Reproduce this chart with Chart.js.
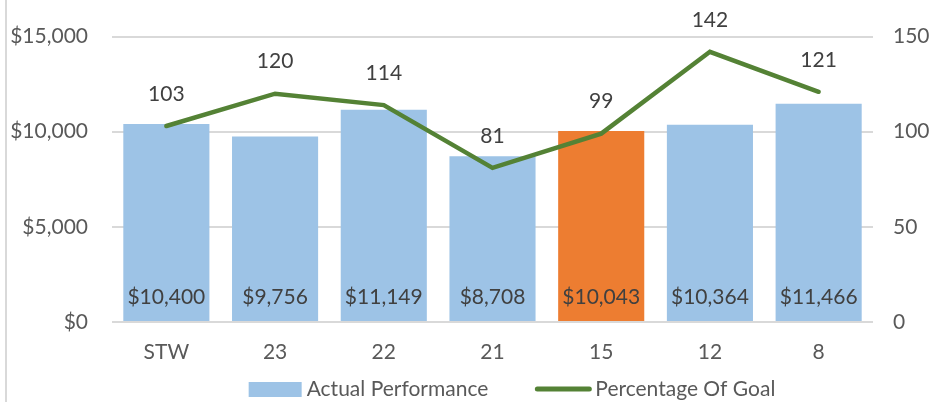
<!DOCTYPE html>
<html><head><meta charset="utf-8">
<script src="https://cdn.jsdelivr.net/npm/chart.js@4"></script>
<style>
html,body{margin:0;padding:0;background:#fff}
#wrap{position:relative;width:937px;height:402px}
#edge{position:absolute;left:5px;top:0;width:2px;height:402px;background:#d9d9d9}
</style>
</head><body>
<div id="wrap"><canvas id="c" width="937" height="402"></canvas><div id="edge"></div></div>
<script>
const categories = ['STW','23','22','21','15','12','8'];
const actualPerformance = [10400,9756,11149,8708,10043,10364,11466];
const percentageOfGoal = [103,120,114,81,99,142,121];
const leftTicks = [0,5000,10000,15000];
const rightTicks = [0,50,100,150];
const seriesNames = ['Actual Performance','Percentage Of Goal'];
const highlightCategory = '15';

const FONT = 'Lato, "Liberation Sans", sans-serif';
const FS = 21;
const TXT = '#595959';
const LBL = '#404040';
const BLUE = '#9DC3E6';
const ORANGE = '#ED7D31';
const GREEN = '#548235';
const fmt = v => '$' + Number(v).toLocaleString('en-US');

const labelsPlugin = {
  id: 'labelsPlugin',
  afterDraw(chart) {
    const ctx = chart.ctx;
    ctx.save();
    ctx.font = FS + 'px ' + FONT;
    ctx.fillStyle = LBL;
    ctx.textAlign = 'center';
    ctx.textBaseline = 'middle';
    chart.data.datasets.forEach((ds, di) => {
      const meta = chart.getDatasetMeta(di);
      meta.data.forEach((el, i) => {
        if (ds.type === 'bar') {
          ctx.fillText(fmt(ds.data[i]), el.x, el.base - 24);
        } else {
          ctx.fillText(String(ds.data[i]), el.x, el.y - 32);
        }
      });
    });
    // legend
    ctx.fillStyle = TXT;
    ctx.textAlign = 'left';
    const w1 = ctx.measureText(seriesNames[0]).width;
    const w2 = ctx.measureText(seriesNames[1]).width;
    const total = 53 + 5 + w1 + 47 + 56 + 4 + w2;
    let x = 512 - total / 2;
    const cy = 389;
    ctx.fillStyle = BLUE;
    ctx.fillRect(x, cy - 7, 53, 15);
    x += 58;
    ctx.fillStyle = TXT;
    ctx.fillText(seriesNames[0], x, cy);
    x += w1 + 47;
    ctx.strokeStyle = GREEN;
    ctx.lineWidth = 5;
    ctx.lineCap = 'round';
    ctx.beginPath();
    ctx.moveTo(x + 2, cy);
    ctx.lineTo(x + 54, cy);
    ctx.stroke();
    x += 60;
    ctx.fillText(seriesNames[1], x, cy);
    ctx.restore();
  }
};

new Chart(document.getElementById('c'), {
  data: {
    labels: categories,
    datasets: [
      {
        type: 'line',
        label: seriesNames[1],
        data: percentageOfGoal,
        yAxisID: 'y2',
        borderColor: GREEN,
        borderWidth: 4.5,
        pointRadius: 0,
        tension: 0,
        order: 0,
        borderCapStyle: 'round'
      },
      {
        type: 'bar',
        label: seriesNames[0],
        data: actualPerformance,
        yAxisID: 'y',
        backgroundColor: categories.map(c => c === highlightCategory ? ORANGE : BLUE),
        categoryPercentage: 0.8,
        barPercentage: 0.99,
        order: 1
      }
    ]
  },
  options: {
    responsive: false,
    animation: false,
    devicePixelRatio: 1,
    layout: { padding: { top: 33, left: 0, right: 0, bottom: 0 } },
    plugins: { legend: { display: false }, tooltip: { enabled: false } },
    scales: {
      x: {
        grid: { display: false, drawTicks: false },
        border: { display: false },
        ticks: { color: TXT, font: { family: FONT, size: FS }, padding: 18 },
        afterFit(s) { s.height = 80; }
      },
      y: {
        position: 'left',
        min: 0, max: 15000,
        afterBuildTicks(s) { s.ticks = leftTicks.map(v => ({ value: v })); },
        grid: { color: '#d9d9d9', lineWidth: 2, drawTicks: false },
        border: { display: false },
        ticks: { color: TXT, font: { family: FONT, size: FS }, padding: 24, callback: v => fmt(v) },
        afterFit(s) { s.width = 112; }
      },
      y2: {
        position: 'right',
        min: 0, max: 150,
        afterBuildTicks(s) { s.ticks = rightTicks.map(v => ({ value: v })); },
        grid: { display: false, drawTicks: false },
        border: { display: false },
        ticks: { color: TXT, font: { family: FONT, size: FS }, padding: 20 },
        afterFit(s) { s.width = 64; }
      }
    }
  },
  plugins: [labelsPlugin]
});
</script>
</body></html>
